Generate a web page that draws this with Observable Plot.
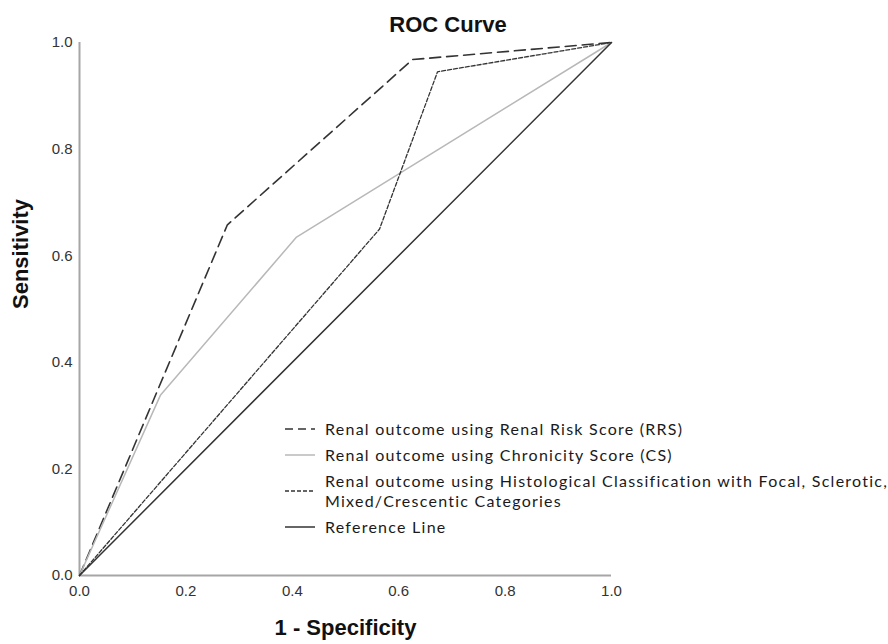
<!DOCTYPE html>
<html>
<head>
<meta charset="utf-8">
<script src="https://cdn.jsdelivr.net/npm/d3@7"></script>
<script src="https://cdn.jsdelivr.net/npm/@observablehq/plot@0.6"></script>
<style>
  html, body { margin: 0; padding: 0; background: #fff; }
  #wrap { position: relative; width: 888px; height: 644px; overflow: hidden; }
  #title { position: absolute; left: 0; top: 12px; width: 888px; line-height: 24px; box-sizing: border-box;
           text-align: center; font: bold 22px "Liberation Sans", Arial, sans-serif; color: #111; padding-left: 8px; }
  #legend { position: absolute; left: 285px; top: 419px; font-family: Lato, "Open Sans", sans-serif;
            font-size: 16px; letter-spacing: 1.25px; color: #1a1a1a; }
  .row { display: flex; align-items: center; margin-bottom: 6px; line-height: 20px; white-space: nowrap; }
  .row svg { flex: none; margin-right: 10px; }
</style>
</head>
<body>
<div id="wrap">
  <div id="chart"></div>
  <div id="title">ROC Curve</div>
  <div id="legend"></div>
</div>
<script>
// ---- data ----
const rrsX = [0, 0.278, 0.626, 1];
const rrsY = [0, 0.658, 0.968, 1];
const csX  = [0, 0.152, 0.408, 1];
const csY  = [0, 0.338, 0.635, 1];
const hcX  = [0, 0.564, 0.673, 1];
const hcY  = [0, 0.650, 0.945, 1];
const refX = [0, 1];
const refY = [0, 1];
const tickValues = [0, 0.2, 0.4, 0.6, 0.8, 1.0];
const seriesNames = [
  "Renal outcome using Renal Risk Score (RRS)",
  "Renal outcome using Chronicity Score (CS)",
  "Renal outcome using Histological Classification with Focal, Sclerotic,|Mixed/Crescentic Categories",
  "Reference Line"
];
const xLabel = "1 - Specificity";
const yLabel = "Sensitivity";

const toPts = (xs, ys) => xs.map((x, i) => ({x, y: ys[i]}));
const styles = [
  {stroke: "#333", strokeWidth: 1.6, strokeDasharray: "11,6"},
  {stroke: "#b8b8b8", strokeWidth: 1.5, strokeDasharray: null},
  {stroke: "#333", strokeWidth: 1.3, strokeDasharray: "4,2"},
  {stroke: "#333", strokeWidth: 1.5, strokeDasharray: null}
];
const series = [toPts(rrsX, rrsY), toPts(csX, csY), toPts(hcX, hcY), toPts(refX, refY)];

const plot = Plot.plot({
  width: 888,
  height: 644,
  marginLeft: 79,
  marginRight: 277,
  marginTop: 42,
  marginBottom: 69,
  x: {domain: [0, 1]},
  y: {domain: [0, 1]},
  style: {fontFamily: "'Liberation Sans', Arial, sans-serif", fontSize: "15px", color: "#333", background: "#fff"},
  marks: [
    Plot.ruleY([0], {x1: 0, x2: 1, stroke: "#a6a6a6", strokeWidth: 2}),
    Plot.ruleX([0], {y1: 0, y2: 1, stroke: "#a6a6a6", strokeWidth: 2}),
    Plot.axisX({ticks: tickValues, tickFormat: d3.format(".1f"), tickSize: 0, tickPadding: 10, label: null, fill: "#333", fontSize: 15}),
    Plot.axisY({ticks: tickValues, tickFormat: d3.format(".1f"), tickSize: 0, tickPadding: 7, label: null, fill: "#333", fontSize: 15}),
    ...series.map((s, i) => Plot.line(s, {x: "x", y: "y", stroke: styles[i].stroke, strokeWidth: styles[i].strokeWidth,
        strokeDasharray: styles[i].strokeDasharray, strokeLinejoin: "miter"})),
    Plot.text([xLabel], {frameAnchor: "bottom", dy: 59, text: d => d, fontWeight: "bold", fontSize: 22, fill: "#111"}),
    Plot.text([yLabel], {frameAnchor: "left", dx: -59, rotate: -90, text: d => d, fontWeight: "bold", fontSize: 22, fill: "#111"})
  ]
});
document.getElementById("chart").appendChild(plot);

// legend
const legend = d3.select("#legend");
seriesNames.forEach((name, i) => {
  const row = legend.append("div").attr("class", "row");
  const sw = row.append("svg").attr("width", 30).attr("height", 10);
  sw.append("line").attr("x1", 0).attr("x2", 30).attr("y1", 5).attr("y2", 5)
    .attr("stroke", styles[i].stroke).attr("stroke-width", styles[i].strokeWidth)
    .attr("stroke-dasharray", i === 0 ? "8,5" : styles[i].strokeDasharray);
  const t = row.append("div");
  name.split("|").forEach((part, j) => {
    if (j > 0) t.append("br");
    t.append("span").text(part);
  });
});
</script>
</body>
</html>
